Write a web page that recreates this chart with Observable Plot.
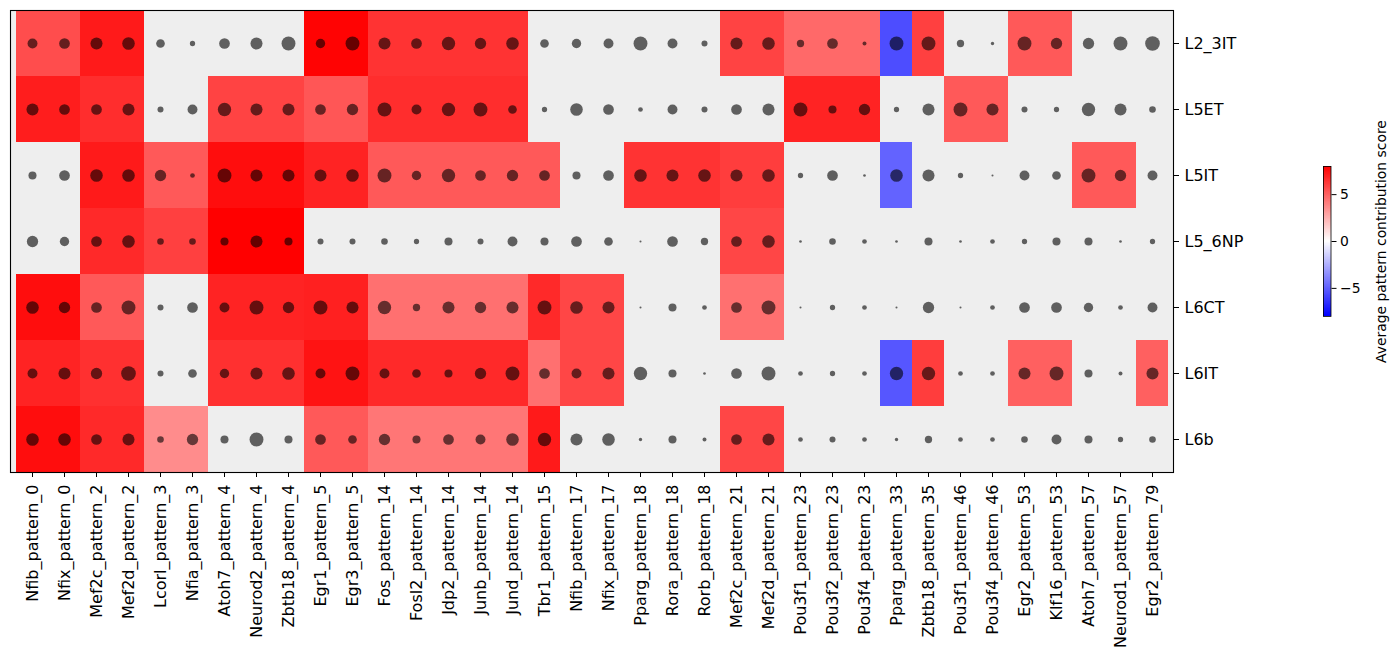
<!DOCTYPE html>
<html>
<head>
<meta charset="utf-8">
<script src="https://cdn.jsdelivr.net/npm/d3@7"></script>
<script src="https://cdn.jsdelivr.net/npm/@observablehq/plot@0.6"></script>
<style>
  body { margin: 0; background: #fff; }
  #chart { position: relative; width: 1400px; height: 661px; font-family: "DejaVu Sans", sans-serif; }
  #chart svg { position: absolute; top: 0; }
</style>
</head>
<body>
<div id="chart"></div>
<script>
// Cell types (rows, top to bottom)
const cellTypes = ["L2_3IT", "L5ET", "L5IT", "L5_6NP", "L6CT", "L6IT", "L6b"];

// Motif / pattern columns (left to right)
const motifs = [
  "Nfib_pattern_0", "Nfix_pattern_0", "Mef2c_pattern_2", "Mef2d_pattern_2",
  "Lcorl_pattern_3", "Nfia_pattern_3", "Atoh7_pattern_4", "Neurod2_pattern_4",
  "Zbtb18_pattern_4", "Egr1_pattern_5", "Egr3_pattern_5", "Fos_pattern_14",
  "Fosl2_pattern_14", "Jdp2_pattern_14", "Junb_pattern_14", "Jund_pattern_14",
  "Tbr1_pattern_15", "Nfib_pattern_17", "Nfix_pattern_17", "Pparg_pattern_18",
  "Rora_pattern_18", "Rorb_pattern_18", "Mef2c_pattern_21", "Mef2d_pattern_21",
  "Pou3f1_pattern_23", "Pou3f2_pattern_23", "Pou3f4_pattern_23", "Pparg_pattern_33",
  "Zbtb18_pattern_35", "Pou3f1_pattern_46", "Pou3f4_pattern_46", "Egr2_pattern_53",
  "Klf16_pattern_53", "Atoh7_pattern_57", "Neurod1_pattern_57", "Egr2_pattern_79"
];

// Patterns that carry an average contribution score
const patterns = [
  "pattern_0", "pattern_2", "pattern_3", "pattern_4", "pattern_5", "pattern_14",
  "pattern_15", "pattern_17", "pattern_18", "pattern_21", "pattern_23", "pattern_33",
  "pattern_35", "pattern_46", "pattern_53", "pattern_57", "pattern_79"
];

// Average pattern contribution score per cell type (null = not significant)
const score_L2_3IT = [5.6, 7.2, null, null, 7.9, 6.4, null, null, null, 5.9, 4.7, -5.6, 6.0, null, 5.2, null, null];
const score_L5ET   = [7.1, 6.6, null, 5.9, 5.3, 6.6, null, null, null, null, 6.9, null, null, 5.2, null, null, null];
const score_L5IT   = [null, 7.2, 5.2, 7.6, 6.9, 5.2, 5.2, null, 6.4, 6.1, null, -4.9, null, null, null, 5.2, null];
const score_L5_6NP = [null, 6.7, 6.0, 8.0, null, null, null, null, null, 5.8, null, null, null, null, null, null, null];
const score_L6CT   = [7.6, 5.2, null, 6.9, 7.0, 4.5, 6.7, 5.8, null, 4.5, null, null, null, null, null, null, null];
const score_L6IT   = [6.9, 6.5, null, 6.5, 7.4, 6.7, 4.5, 5.8, null, null, null, -5.3, 6.1, null, 5.0, null, 5.0];
const score_L6b    = [7.6, 6.7, 3.6, null, 5.2, 4.3, 7.2, null, null, 5.8, null, null, null, null, null, null, null];

// Relative motif importance per cell type, one value per motif column
const frac_L2_3IT = [.68, .73, .82, .86, .59, .36, .73, .82, .95, .64, .95, .82, .73, .91, .77, .86, .59, .64, .68, .95, .68, .41, .82, .86, .50, .73, .27, .95, .95, .50, .23, .95, .77, .77, .95, 1.0];
const frac_L5ET   = [.82, .73, .73, .82, .41, .68, .91, .82, .82, .73, .77, .95, .68, .91, .95, .59, .36, .86, .73, .32, .68, .41, .73, .82, .95, .55, .77, .36, .82, .95, .82, .41, .36, .91, .82, .45];
const frac_L5IT   = [.55, .73, .86, .86, .77, .32, .95, .82, .82, .82, .86, .95, .64, .91, .73, .77, .73, .55, .73, .86, .82, .86, .82, .86, .36, .73, .18, .86, .82, .36, .14, .68, .59, .95, .77, .68];
const frac_L5_6NP = [.77, .64, .73, .86, .45, .45, .55, .82, .55, .41, .41, .45, .36, .55, .41, .68, .55, .73, .59, .14, .73, .50, .73, .86, .18, .45, .32, .18, .55, .18, .32, .36, .55, .55, .18, .36];
const frac_L6CT   = [.86, .77, .73, .95, .41, .73, .68, .95, .77, .95, .82, .91, .50, .82, .77, .82, .95, .86, .82, .14, .55, .32, .73, .95, .14, .36, .32, .14, .77, .14, .32, .73, .73, .64, .32, .68];
const frac_L6IT   = [.68, .82, .77, 1.0, .41, .59, .64, .82, .86, .68, .95, .68, .59, .55, .77, .95, .73, .68, .82, .91, .55, .18, .73, .95, .32, .36, .32, .91, .91, .32, .32, .82, .95, .55, .27, .82];
const frac_L6b    = [.86, .86, .73, .82, .45, .77, .55, .95, .55, .73, .59, .77, .55, .73, .68, .86, .91, .82, .86, .23, .55, .27, .73, .82, .32, .41, .32, .23, .50, .32, .32, .45, .68, .55, .36, .45];

const colorbarTicks = [-5, 0, 5];
const colorbarLabel = "Average pattern contribution score";

const scoreRows = [score_L2_3IT, score_L5ET, score_L5IT, score_L5_6NP, score_L6CT, score_L6IT, score_L6b];
const fracRows = [frac_L2_3IT, frac_L5ET, frac_L5IT, frac_L5_6NP, frac_L6CT, frac_L6IT, frac_L6b];

// Long-format tables for the heatmap cells and the dots
const cells = [];
const dots = [];
cellTypes.forEach((cellType, i) => {
  motifs.forEach((motif, j) => {
    const pattern = "pattern_" + motif.split("_pattern_")[1];
    const score = scoreRows[i][patterns.indexOf(pattern)];
    if (score != null) cells.push({motif, cellType, score});
    dots.push({motif, cellType, frac: fracRows[i][j]});
  });
});

// Blue-white-red diverging scale, symmetric around zero
const colorScale = () => ({
  type: "linear",
  domain: [-8, 0, 8],
  range: ["#0000ff", "#ffffff", "#ff0000"],
  interpolate: "rgb"
});

const chart = document.getElementById("chart");

const main = Plot.plot({
  width: 1400,
  height: 661,
  marginLeft: 10,
  marginTop: 10,
  marginRight: 227,
  marginBottom: 189,
  style: {fontFamily: '"DejaVu Sans", sans-serif', fontSize: "16px", color: "#000", background: "transparent"},
  x: {domain: motifs, padding: 0},
  y: {domain: cellTypes, padding: 0},
  color: colorScale(),
  r: {type: "linear", domain: [0, 1], range: [0, 7.33]},
  marks: [
    Plot.frame({fill: "#eeeeee"}),
    Plot.cell(cells, {x: "motif", y: "cellType", fill: "score", shapeRendering: "crispEdges"}),
    Plot.dot(dots, {x: "motif", y: "cellType", r: "frac", fill: "#000", fillOpacity: 0.6}),
    Plot.frame({stroke: "#000", strokeWidth: 1.1}),
    Plot.axisX({anchor: "bottom", tickRotate: -90, tickSize: 5, tickPadding: 7, label: null}),
    Plot.axisY({anchor: "right", tickSize: 5, tickPadding: 6, label: null})
  ]
});
main.style.left = "0px";
chart.appendChild(main);

// Vertical colour bar sharing the same diverging scale
const step = 0.0625;
const steps = d3.range(-8, 8, step);
const bar = Plot.plot({
  width: 100,
  height: 661,
  marginLeft: 23,
  marginRight: 69.5,
  marginTop: 166,
  marginBottom: 345,
  style: {fontFamily: '"DejaVu Sans", sans-serif', fontSize: "13.9px", color: "#000", background: "transparent"},
  x: {domain: [0, 1], axis: null},
  y: {domain: [-8, 8]},
  color: colorScale(),
  marks: [
    Plot.rect(steps, {y1: (d) => d, y2: (d) => d + step, fill: (d) => d + step / 2, shapeRendering: "crispEdges"}),
    Plot.frame({stroke: "#000", strokeWidth: 0.8}),
    Plot.axisY({anchor: "right", ticks: colorbarTicks, tickFormat: d3.format("d"), tickSize: 5, tickPadding: 4, label: null}),
    Plot.text([colorbarLabel], {text: (d) => d, frameAnchor: "middle", rotate: -90, dx: 54, fontSize: 13.9})
  ]
});
bar.style.left = "1300px";
chart.appendChild(bar);
</script>
</body>
</html>
